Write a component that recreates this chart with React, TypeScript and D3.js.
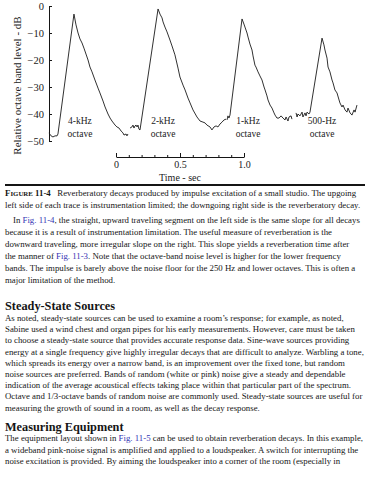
import React, { useEffect, useRef } from "react";
import * as d3 from "d3";

type Pt = [number, number];

// level axis (dB) and the time scale bar (sec)
const levelTicks = [0, -10, -20, -30, -40, -50];
const timeMajor = [0, 0.5, 1];
const timeMinor = [0.1, 0.2, 0.3, 0.4, 0.6, 0.7, 0.8, 0.9];

const octaves = ["4-kHz", "2-kHz", "1-kHz", "500-Hz"];
const octaveLabelTime = [0.242, 0.891, 1.555, 2.133];

// decay records [time s, level dB]
const decay4k: Pt[] = [
  [0, -47.0], [0.016, -48.1], [0.031, -48.5], [0.047, -48.1], [0.063, -48.1], [0.07, -47.4],
  [0.195, -3.0], [0.211, -7.0], [0.227, -10.0], [0.242, -12.2], [0.258, -13.7], [0.273, -15.6],
  [0.289, -17.8], [0.305, -20.0], [0.32, -22.6], [0.336, -24.4], [0.359, -27.4], [0.383, -30.4],
  [0.398, -32.2], [0.422, -35.2], [0.438, -37.4], [0.461, -40.0], [0.477, -41.5], [0.492, -42.6],
  [0.516, -44.1], [0.531, -44.8], [0.547, -45.2], [0.563, -46.3], [0.578, -47.0], [0.586, -47.8],
  [0.602, -47.4], [0.609, -48.1], [0.617, -47.4],
];
const decay2k: Pt[] = [
  [0.633, -45.2], [0.648, -44.8], [0.656, -44.1], [0.664, -45.2], [0.672, -44.4], [0.68, -44.1],
  [0.688, -44.8], [0.695, -44.1], [0.703, -45.6], [0.711, -45.9], [0.852, -1.1], [0.867, -3.0],
  [0.883, -4.4], [0.891, -5.9], [0.906, -7.8], [0.922, -9.6], [0.945, -12.6], [0.961, -14.8],
  [0.984, -18.1], [1.008, -23.0], [1.023, -26.3], [1.047, -29.3], [1.063, -31.1], [1.086, -34.1],
  [1.102, -35.9], [1.125, -38.5], [1.156, -41.1], [1.18, -42.6], [1.203, -43.0], [1.219, -43.3],
  [1.234, -44.1], [1.258, -44.8], [1.273, -45.9], [1.289, -44.8], [1.305, -44.4], [1.32, -44.8],
  [1.336, -43.7], [1.352, -43.0], [1.367, -42.2], [1.383, -41.9],
];
const decay1k: Pt[] = [
  [1.391, -42.2], [1.398, -40.7], [1.406, -41.5], [1.414, -40.4], [1.508, -4.8], [1.523, -6.7],
  [1.531, -7.8], [1.547, -10.0], [1.555, -11.5], [1.57, -14.1], [1.586, -16.3], [1.594, -18.5],
  [1.609, -21.9], [1.617, -22.6], [1.633, -24.4], [1.648, -25.9], [1.664, -27.4], [1.68, -30.0],
  [1.688, -31.1], [1.703, -33.3], [1.711, -34.8], [1.727, -36.7], [1.742, -37.8], [1.758, -39.6],
  [1.766, -40.4], [1.781, -41.5], [1.797, -41.5], [1.813, -40.7], [1.828, -41.5], [1.844, -42.2],
  [1.852, -41.1], [1.867, -42.6], [1.875, -41.1], [1.891, -40.7], [1.898, -41.9],
];
const decay500: Pt[] = [
  [1.93, -39.6], [1.938, -41.1], [1.945, -40.0], [1.961, -40.7], [1.977, -39.3], [1.984, -41.1],
  [2.0, -39.6], [2.008, -40.7], [2.016, -39.3], [2.031, -40.0], [2.039, -39.3], [2.133, -11.9],
  [2.148, -14.4], [2.156, -16.3], [2.172, -19.3], [2.18, -22.6], [2.195, -24.4], [2.211, -27.4],
  [2.219, -28.5], [2.234, -31.1], [2.25, -32.2], [2.266, -34.8], [2.273, -35.9], [2.289, -37.4],
  [2.297, -36.7], [2.313, -38.5], [2.328, -39.3], [2.336, -37.8], [2.352, -39.6], [2.367, -40.4],
  [2.383, -38.5], [2.391, -39.3], [2.406, -36.7],
];
const traces = [decay4k, decay2k, decay1k, decay500];

// page text; {..} marks a cross reference
const captionHead = "11-4";
const captionLines = [
  "Reverberatory decays produced by impulse excitation of a small studio. The upgoing",
  "left side of each trace is instrumentation limited; the downgoing right side is the reverberatory decay.",
];
const para1 = [
  "In {Fig. 11-4}, the straight, upward traveling segment on the left side is the same slope for all decays",
  "because it is a result of instrumentation limitation. The useful measure of reverberation is the",
  "downward traveling, more irregular slope on the right. This slope yields a reverberation time after",
  "the manner of {Fig. 11-3}. Note that the octave-band noise level is higher for the lower frequency",
  "bands. The impulse is barely above the noise floor for the 250 Hz and lower octaves. This is often a",
  "major limitation of the method.",
];
const heading1 = "Steady-State Sources";
const para2 = [
  "As noted, steady-state sources can be used to examine a room\u2019s response; for example, as noted,",
  "Sabine used a wind chest and organ pipes for his early measurements. However, care must be taken",
  "to choose a steady-state source that provides accurate response data. Sine-wave sources providing",
  "energy at a single frequency give highly irregular decays that are difficult to analyze. Warbling a tone,",
  "which spreads its energy over a narrow band, is an improvement over the fixed tone, but random",
  "noise sources are preferred. Bands of random (white or pink) noise give a steady and dependable",
  "indication of the average acoustical effects taking place within that particular part of the spectrum.",
  "Octave and 1/3-octave bands of random noise are commonly used. Steady-state sources are useful for",
  "measuring the growth of sound in a room, as well as the decay response.",
];
const heading2 = "Measuring Equipment";
const para3 = [
  "The equipment layout shown in {Fig. 11-5} can be used to obtain reverberation decays. In this example,",
  "a wideband pink-noise signal is amplified and applied to a loudspeaker. A switch for interrupting the",
  "noise excitation is provided. By aiming the loudspeaker into a corner of the room (especially in",
];

const serif = "'Liberation Serif', 'Times New Roman', serif";
const ink = "#151515";
const link = "#3434b4";
const bodySize = 8.8;

function Line({ text, x, y }: { text: string; x: number; y: number }) {
  const parts = text.split(/(\{[^}]*\})/).filter((p) => p.length);
  return (
    <text x={x} y={y} fontFamily={serif} fontSize={bodySize} fill={ink} xmlSpace="preserve">
      {parts.map((p, i) =>
        p.startsWith("{") ? (
          <tspan key={i} fill={link}>{p.slice(1, -1)}</tspan>
        ) : (
          <tspan key={i}>{p}</tspan>
        )
      )}
    </text>
  );
}

export default function App() {
  const yAxisRef = useRef<SVGGElement>(null);
  const minorRef = useRef<SVGGElement>(null);
  const majorRef = useRef<SVGGElement>(null);

  const x = d3.scaleLinear().domain([0, 2.5]).range([49, 369]);
  const y = d3.scaleLinear().domain([-50, 0]).range([141, 6]);
  const tbar = d3.scaleLinear().domain([0, 1]).range([116, 244]);
  const line = d3.line<Pt>().x((d) => x(d[0])).y((d) => y(d[1]));

  useEffect(() => {
    const ya = d3.select(yAxisRef.current!);
    ya.call(
      d3.axisLeft(y).tickValues(levelTicks).tickSize(-3).tickSizeOuter(0).tickPadding(5)
        .tickFormat(d3.format("d") as any)
    );
    ya.attr("font-family", serif).attr("font-size", 10.5);
    ya.selectAll("path, line").attr("stroke", ink);
    ya.selectAll("text").attr("fill", "#222");

    const mi = d3.select(minorRef.current!);
    mi.call(d3.axisBottom(tbar).tickValues(timeMinor).tickSize(-2).tickFormat(() => ""));
    mi.select(".domain").remove();
    mi.selectAll("line").attr("stroke", ink);

    const ma = d3.select(majorRef.current!);
    ma.call(
      d3.axisBottom(tbar).tickValues(timeMajor).tickSize(-4).tickSizeOuter(0).tickPadding(4)
        .tickFormat((d: any) => (d === 0 ? "0" : d3.format(".1f")(d)))
    );
    ma.attr("font-family", serif).attr("font-size", 10);
    ma.selectAll("path, line").attr("stroke", ink);
    ma.selectAll("text").attr("fill", "#222");
  }, []);

  // text block baselines
  const p1 = 222.5, lead1 = 12;
  const h1 = p1 + (para1.length - 1) * lead1 + 27.5;
  const p2 = h1 + 11, lead2 = 11.2;
  const h2 = p2 + (para2.length - 1) * lead2 + 20;
  const p3 = h2 + 10.5, lead3 = 11.4;

  return (
    <div style={{ position: "absolute", left: 0, top: 0 }}>
      <svg width={370} height={480} style={{ display: "block", background: "#fff" }}>
        {/* chart */}
        <g ref={yAxisRef} transform={`translate(${x(0)},0)`} />
        {traces.map((t, i) => (
          <path key={i} d={line(t) ?? ""} fill="none" stroke="#1a1a1a" strokeWidth={0.9} strokeLinejoin="round" />
        ))}
        {octaves.map((o, i) => (
          <text key={o} x={x(octaveLabelTime[i])} y={y(-43.6)} textAnchor="middle" fontFamily={serif} fontSize={9.5} fill="#222">
            <tspan x={x(octaveLabelTime[i])}>{o}</tspan>
            <tspan x={x(octaveLabelTime[i])} dy={13}>octave</tspan>
          </text>
        ))}
        <text transform={`translate(21,${(y(0) + y(-50)) / 2 + 12}) rotate(-90)`} textAnchor="middle" fontFamily={serif} fontSize={11} fill="#222">
          Relative octave band level - dB
        </text>
        <g ref={minorRef} transform="translate(0,157)" />
        <g ref={majorRef} transform="translate(0,157)" />
        <text x={tbar(0.5)} y={181} textAnchor="middle" fontFamily={serif} fontSize={10} fill="#222">Time - sec</text>

        {/* caption */}
        <rect x={5} y={184} width={360} height={2} fill={ink} />
        <text x={5} y={196} fontFamily={serif} fontSize={bodySize} fill={ink} xmlSpace="preserve">
          <tspan fontWeight="bold">F</tspan>
          <tspan fontWeight="bold" fontSize={bodySize * 0.78}>IGURE</tspan>
          <tspan fontWeight="bold">{" " + captionHead}</tspan>
          <tspan>{"   " + captionLines[0]}</tspan>
        </text>
        <Line text={captionLines[1]} x={5} y={207.6} />

        {/* body text */}
        {para1.map((l, i) => (
          <Line key={i} text={l} x={i === 0 ? 13 : 5} y={p1 + i * lead1} />
        ))}
        <text x={5} y={h1} fontFamily={serif} fontSize={12.3} fontWeight="bold" fill={ink}>{heading1}</text>
        {para2.map((l, i) => (
          <Line key={i} text={l} x={5} y={p2 + i * lead2} />
        ))}
        <text x={5} y={h2} fontFamily={serif} fontSize={12.3} fontWeight="bold" fill={ink}>{heading2}</text>
        {para3.map((l, i) => (
          <Line key={i} text={l} x={5} y={p3 + i * lead3} />
        ))}
      </svg>
    </div>
  );
}
